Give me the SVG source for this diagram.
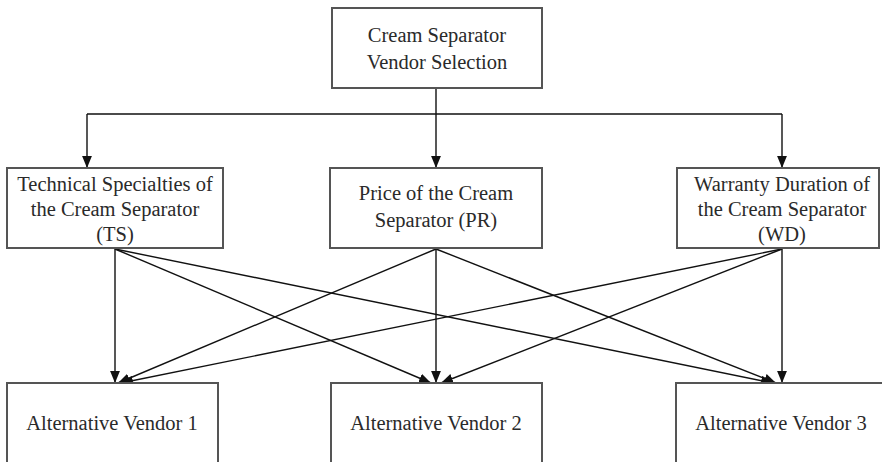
<svg xmlns="http://www.w3.org/2000/svg" width="882" height="462" viewBox="0 0 882 462">
<defs>
<style>
.box{fill:#fff;stroke:#555;stroke-width:2}
.t{font-family:"Liberation Serif","Times New Roman",serif;font-size:20.5px;fill:#2a2a2a;text-anchor:middle}
.c{stroke:#111;stroke-width:1.4;fill:none}
</style>
<marker id="ah" markerWidth="12" markerHeight="10" refX="11" refY="4.5" orient="auto" markerUnits="userSpaceOnUse" viewBox="0 0 11 9">
<path d="M0,0 L11,4.5 L0,9 Z" fill="#111"/>
</marker>
</defs>
<rect width="882" height="462" fill="#fff"/>
<g id="connectors">
<path class="c" d="M436,88 V114 M87,114 H782"/>
<path class="c" marker-end="url(#ah)" d="M87,114 V168"/>
<path class="c" marker-end="url(#ah)" d="M436,114 V168"/>
<path class="c" marker-end="url(#ah)" d="M782,114 V168"/>
<path class="c" marker-end="url(#ah)" d="M115,249 V383"/>
<path class="c" marker-end="url(#ah)" d="M115,249 L431,383"/>
<path class="c" marker-end="url(#ah)" d="M115,249 L773,383"/>
<path class="c" marker-end="url(#ah)" d="M436,249 L118,383"/>
<path class="c" marker-end="url(#ah)" d="M436,249 V383"/>
<path class="c" marker-end="url(#ah)" d="M436,249 L776,383"/>
<path class="c" marker-end="url(#ah)" d="M782,249 L121,383"/>
<path class="c" marker-end="url(#ah)" d="M782,249 L441,383"/>
<path class="c" marker-end="url(#ah)" d="M782,249 V383"/>
</g>
<g id="goal">
<rect class="box" x="332" y="8" width="210" height="80"/>
<text class="t" x="437" y="42">Cream Separator</text>
<text class="t" x="437" y="69">Vendor Selection</text>
</g>
<g id="ts">
<rect class="box" x="7" y="168" width="216" height="80"/>
<text class="t" x="115" y="191">Technical Specialties of</text>
<text class="t" x="115" y="216">the Cream Separator</text>
<text class="t" x="115" y="241">(TS)</text>
</g>
<g id="pr">
<rect class="box" x="330" y="168" width="212" height="80"/>
<text class="t" x="436" y="200">Price of the Cream</text>
<text class="t" x="436" y="227">Separator (PR)</text>
</g>
<g id="wd">
<rect class="box" x="677" y="168" width="202" height="80"/>
<text class="t" x="782" y="191">Warranty Duration of</text>
<text class="t" x="782" y="216">the Cream Separator</text>
<text class="t" x="782" y="241">(WD)</text>
</g>
<g id="v1">
<rect class="box" x="7" y="383" width="211" height="90"/>
<text class="t" x="112" y="430">Alternative Vendor 1</text>
</g>
<g id="v2">
<rect class="box" x="331" y="383" width="211" height="90"/>
<text class="t" x="436" y="430">Alternative Vendor 2</text>
</g>
<g id="v3">
<rect class="box" x="676" y="383" width="211" height="90"/>
<text class="t" x="781" y="430">Alternative Vendor 3</text>
</g>
</svg>
